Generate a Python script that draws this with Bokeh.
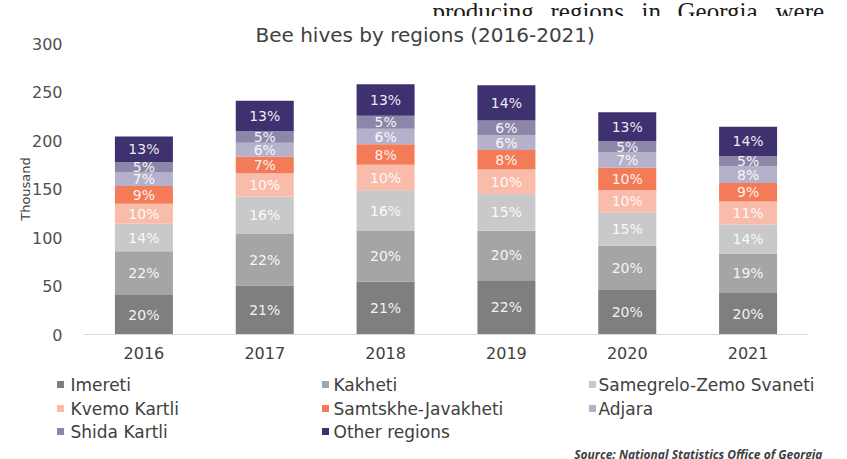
from bokeh.plotting import figure
from bokeh.layouts import column, row
from bokeh.models import ColumnDataSource, Range1d, FactorRange, FixedTicker, Title
from bokeh.core.properties import value
from bokeh.embed import file_html
from bokeh.resources import INLINE

# ---------------- data (thousand bee hives) ----------------
years = ["2016", "2017", "2018", "2019", "2020", "2021"]
regions = ["Imereti", "Kakheti", "Samegrelo-Zemo Svaneti", "Kvemo Kartli",
           "Samtskhe-Javakheti", "Adjara", "Shida Kartli", "Other regions"]
imereti = [40.8, 50.6, 54.7, 56.0, 45.8, 42.8]
kakheti = [44.9, 53.0, 52.1, 50.9, 45.8, 40.7]
samegrelo = [28.6, 38.6, 41.8, 38.0, 34.4, 30.0]
kvemo_kartli = [20.4, 24.1, 26.3, 25.2, 22.9, 23.5]
samtskhe = [18.4, 16.9, 21.2, 20.0, 22.9, 19.3]
adjara = [14.3, 14.5, 16.0, 15.2, 16.0, 17.1]
shida_kartli = [10.2, 12.1, 13.4, 15.2, 11.5, 10.7]
other_regions = [26.5, 31.3, 32.5, 36.5, 29.8, 30.0]
y_ticks = [0, 50, 100, 150, 200, 250, 300]

series = [imereti, kakheti, samegrelo, kvemo_kartli, samtskhe, adjara, shida_kartli, other_regions]
colors = ["#7f7f7f", "#a5a5a5", "#c9c9c9", "#f9bcab", "#f47b58", "#b5b1ca", "#8c86a9", "#3f3070"]

title_text = "Bee hives by regions (2016-2021)"
source_text = "Source: National Statistics Office of Georgia"
doc_words = ["producing", "regions", "in", "Georgia", "were"]

W = 847
H_HEAD, H_MAIN, H_LEG = 16, 349, 94
FL, FR = 83, 808          # chart frame left/right (px)
FT, FB = 27, 318          # chart frame top/bottom inside the main figure (px)


def strip(height):
    # a bare full-width strip whose coordinates are page pixels
    fig = figure(width=W, height=height, x_range=Range1d(0, W), y_range=Range1d(height, 0),
                 output_backend="svg", toolbar_location=None, min_border=0)
    fig.outline_line_color = None
    fig.xaxis.visible = False
    fig.yaxis.visible = False
    fig.xgrid.visible = False
    fig.ygrid.visible = False
    fig.background_fill_color = "white"
    fig.border_fill_color = "white"
    return fig


# ---------------- header strip (cropped page text) ----------------
head = strip(H_HEAD)
word_x = [432, 550, 641, 677, 775]
head.text(x=word_x, y=[11] * len(doc_words), text=doc_words, text_align="left",
          text_baseline="alphabetic", text_font=value("Liberation Serif"),
          text_font_size="25px", text_color="#1a1a1a")

# ---------------- main chart ----------------
keys = ["s%d" % i for i in range(len(regions))]
data = {"year": years}
for k, s in zip(keys, series):
    data[k] = s
src = ColumnDataSource(data)

p = figure(x_range=FactorRange(factors=years, range_padding=0),
           y_range=Range1d(0, 300), width=W, height=H_MAIN,
           output_backend="svg", toolbar_location=None,
           min_border_left=FL, min_border_right=W - FR,
           min_border_top=FT, min_border_bottom=H_MAIN - FB)
p.outline_line_color = None
p.background_fill_color = "white"
p.border_fill_color = "white"
p.xgrid.visible = False
p.ygrid.visible = False

p.vbar_stack(keys, x="year", width=0.48, color=colors, line_color=None, source=src)

lx, ly, lt = [], [], []
for i, yr in enumerate(years):
    total = sum(s[i] for s in series)
    base = 0.0
    for s in series:
        v = s[i]
        lx.append(yr)
        ly.append(base + v / 2)
        lt.append("%d%%" % round(v / total * 100))
        base += v
p.text(x=lx, y=ly, text=lt, text_align="center", text_baseline="middle",
       text_color="#ffffff", text_alpha=0.92, text_font=value("DejaVu Sans"),
       text_font_size="14px")

p.yaxis.ticker = FixedTicker(ticks=y_ticks)
p.yaxis.axis_line_color = None
p.yaxis.major_tick_line_color = None
p.yaxis.minor_tick_line_color = None
p.yaxis.major_label_standoff = 15
p.yaxis.major_label_text_font = "DejaVu Sans"
p.yaxis.major_label_text_font_size = "16px"
p.yaxis.major_label_text_color = "#505050"
p.yaxis.axis_label = "Thousand"
p.yaxis.axis_label_text_font = "DejaVu Sans"
p.yaxis.axis_label_text_font_size = "13px"
p.yaxis.axis_label_text_font_style = "normal"
p.yaxis.axis_label_text_color = "#404040"
p.yaxis.axis_label_standoff = -4

p.xaxis.axis_line_color = "#d9d9d9"
p.xaxis.major_tick_line_color = None
p.xaxis.minor_tick_line_color = None
p.xaxis.major_label_standoff = 6
p.xaxis.major_label_text_font = "DejaVu Sans"
p.xaxis.major_label_text_font_size = "16px"
p.xaxis.major_label_text_color = "#404040"

p.add_layout(Title(text=title_text, align="left", offset=255 - FL, standoff=-6,
                   text_font="DejaVu Sans", text_font_size="20px",
                   text_font_style="normal", text_color="#404040"), "above")

# ---------------- legend + source strip ----------------
leg = strip(H_LEG)
sq_cols = [60, 325, 592]
txt_cols = [70, 333, 598]
row_y = [19, 43, 66]
sq_x, sq_y, tx, ty = [], [], [], []
for i in range(len(regions)):
    r, c = divmod(i, 3)
    sq_x.append(sq_cols[c])
    sq_y.append(row_y[r])
    tx.append(txt_cols[c])
    ty.append(row_y[r])
leg.scatter(x=sq_x, y=sq_y, marker="square", size=7, color=colors, line_color=None)
leg.text(x=tx, y=ty, text=regions, text_align="left", text_baseline="middle",
         text_font=value("DejaVu Sans"), text_font_size="17px", text_color="#404040")
leg.text(x=[822], y=[89], text=[source_text], text_align="right", text_baseline="alphabetic",
         text_font=value("Open Sans"), text_font_style="bold italic",
         text_font_size="12px", text_color="#404040")

layout = column(row(head), p, row(leg), spacing=0)
open("out.html", "w").write(file_html(layout, INLINE))
